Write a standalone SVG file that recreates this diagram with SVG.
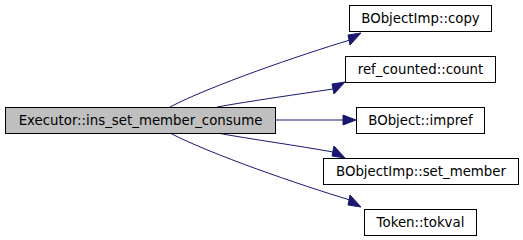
<svg xmlns="http://www.w3.org/2000/svg" width="523" height="240" viewBox="0 0 523 240">
<style>
.n rect{fill:#fff;stroke:#000;stroke-width:1}
.n.main rect{fill:#bfbfbf}
.n text{font-family:"DejaVu Sans",sans-serif;font-size:13.33px;text-anchor:middle;fill:#000}
.e path{fill:none;stroke:#191970;stroke-width:1}
.e polygon{fill:#191970;stroke:#191970;stroke-width:1}
</style>
<rect width="523" height="240" fill="#fff"/>
<g id="edges" class="e">
<path d="M170,107 C210,86 300,55 350,40"/>
<polygon points="348,35 361,33 350,45"/>
<path d="M217,107 C250,101 300,94 333,89"/>
<polygon points="332,84 345,82 334,94"/>
<path d="M275,120 L343,120"/>
<polygon points="343,115 356,120 343,125"/>
<path d="M217,133 C250,139 300,146 333,152"/>
<polygon points="334,146 345,158 332,156"/>
<path d="M170,133 C210,154 300,185 350,200"/>
<polygon points="350,195 361,207 348,205"/>
</g>
<g id="n0" class="n main"><rect x="5.5" y="107.5" width="270" height="26"/><text x="140.5" y="125">Executor::ins_set_member_consume</text></g>
<g id="n1" class="n"><rect x="349.5" y="5.5" width="142" height="26"/><text x="420.5" y="23">BObjectImp::copy</text></g>
<g id="n2" class="n"><rect x="345.5" y="56.5" width="150" height="26"/><text x="420.5" y="74">ref_counted::count</text></g>
<g id="n3" class="n"><rect x="356.5" y="107.5" width="128" height="26"/><text x="420.5" y="125">BObject::impref</text></g>
<g id="n4" class="n"><rect x="323.5" y="158.5" width="195" height="26"/><text x="421" y="176">BObjectImp::set_member</text></g>
<g id="n5" class="n"><rect x="364.5" y="209.5" width="112" height="26"/><text x="420.5" y="227">Token::tokval</text></g>
</svg>
